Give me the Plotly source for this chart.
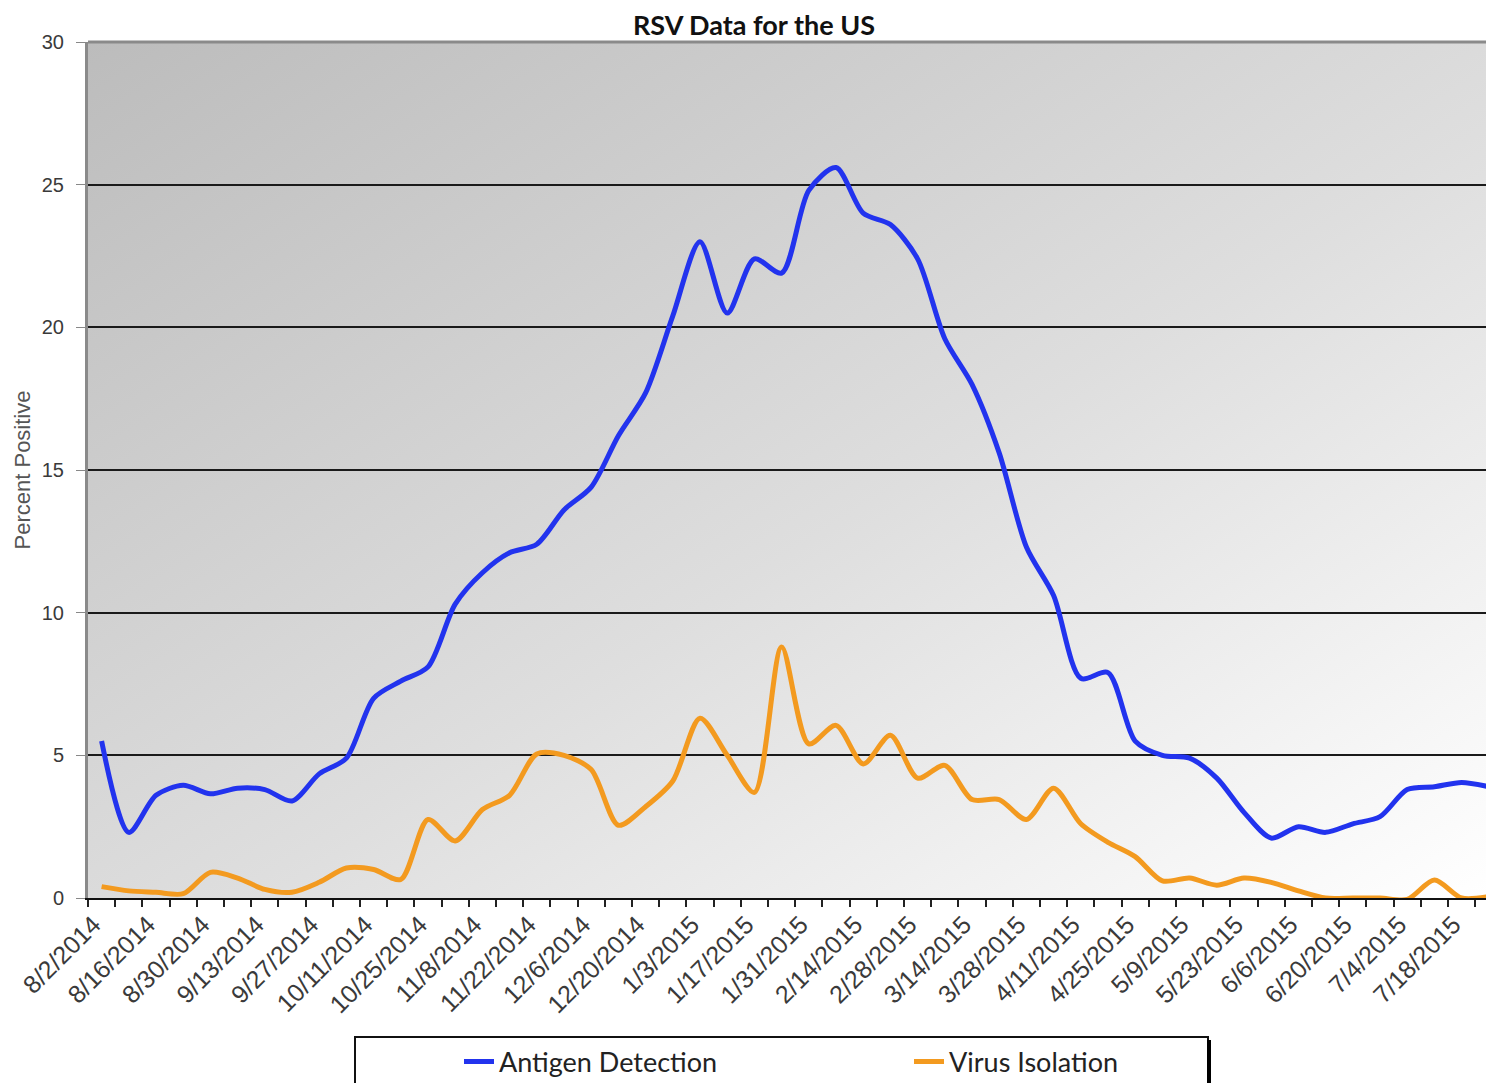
import base64
import plotly.graph_objects as go

# weekly reporting dates (one category per week)
weeks = [
    "8/2/2014", "8/9/2014", "8/16/2014", "8/23/2014", "8/30/2014", "9/6/2014",
    "9/13/2014", "9/20/2014", "9/27/2014", "10/4/2014", "10/11/2014", "10/18/2014",
    "10/25/2014", "11/1/2014", "11/8/2014", "11/15/2014", "11/22/2014", "11/29/2014",
    "12/6/2014", "12/13/2014", "12/20/2014", "12/27/2014", "1/3/2015", "1/10/2015",
    "1/17/2015", "1/24/2015", "1/31/2015", "2/7/2015", "2/14/2015", "2/21/2015",
    "2/28/2015", "3/7/2015", "3/14/2015", "3/21/2015", "3/28/2015", "4/4/2015",
    "4/11/2015", "4/18/2015", "4/25/2015", "5/2/2015", "5/9/2015", "5/16/2015",
    "5/23/2015", "5/30/2015", "6/6/2015", "6/13/2015", "6/20/2015", "6/27/2015",
    "7/4/2015", "7/11/2015", "7/18/2015", "7/25/2015",
]

antigen = [
    5.5, 2.3, 3.6, 3.95, 3.65, 3.85, 3.8, 3.4, 4.35, 4.9,
    7.0, 7.6, 8.1, 10.3, 11.4, 12.1, 12.4, 13.6, 14.4, 16.2,
    17.7, 20.4, 23.0, 20.5, 22.4, 21.9, 24.8, 25.6, 24.0, 23.6,
    22.4, 19.6, 18.0, 15.6, 12.3, 10.6, 7.7, 7.9, 5.5, 5.0,
    4.9, 4.2, 3.0, 2.1, 2.5, 2.3, 2.6, 2.85, 3.8, 3.9,
    4.05, 3.9,
]

virus = [
    0.4, 0.25, 0.2, 0.15, 0.9, 0.7, 0.3, 0.2, 0.55, 1.05,
    1.0, 0.65, 2.75, 2.0, 3.1, 3.6, 5.05, 5.0, 4.5, 2.55,
    3.2, 4.1, 6.3, 5.0, 3.7, 8.8, 5.4, 6.05, 4.7, 5.7,
    4.2, 4.65, 3.45, 3.45, 2.75, 3.85, 2.6, 1.95, 1.45, 0.6,
    0.7, 0.45, 0.7, 0.55, 0.25, 0.0, 0.0, 0.0, -0.05, 0.63,
    0.0, 0.05,
]

# only every other week gets a label
labels = [w if i % 2 == 0 else "" for i, w in enumerate(weeks)]

# the page body keeps an 8px margin on every side, so the figure is
# 16px smaller than the window and everything is placed in screen pixels
OFF = 8
W, H = 1494 - 2 * OFF, 1091 - 2 * OFF
PLOT_L, PLOT_T, PLOT_B = 88, 42, 898
L, R, T = PLOT_L - OFF, 0, PLOT_T - OFF
B = H - (PLOT_B - OFF)
PW, PH = W - L - R, H - T - B
STEP = 27.2  # px per week in the reference


def px_x(x):
    return (x - OFF - L) / PW


def px_y(y):
    return (H - B - (y - OFF)) / PH


# grey-to-white diagonal background for the plot area
svg = (
    '<svg xmlns="http://www.w3.org/2000/svg" width="100" height="100" '
    'viewBox="0 0 100 100" preserveAspectRatio="none">'
    '<defs><linearGradient id="g" x1="0" y1="0" x2="1" y2="1">'
    '<stop offset="0" stop-color="#bcbcbc"/>'
    '<stop offset="0.55" stop-color="#dedede"/>'
    '<stop offset="1" stop-color="#ffffff"/>'
    '</linearGradient></defs>'
    '<rect width="100" height="100" fill="url(#g)"/></svg>'
)
bg = "data:image/svg+xml;base64," + base64.b64encode(svg.encode()).decode()

fig = go.Figure()

fig.add_trace(go.Scatter(
    x=weeks, y=antigen, mode="lines", name="Antigen Detection",
    line=dict(color="#2233ee", width=5, shape="spline", smoothing=0.8),
))
fig.add_trace(go.Scatter(
    x=weeks, y=virus, mode="lines", name="Virus Isolation",
    line=dict(color="#f39a1f", width=5, shape="spline", smoothing=0.8),
))

fig.update_layout(
    width=W, height=H,
    margin=dict(l=L, r=R, t=T, b=B, autoexpand=False),
    paper_bgcolor="white",
    plot_bgcolor="rgba(0,0,0,0)",
    title=dict(
        text="<b>RSV Data for the US</b>",
        x=(754 - OFF) / W, xref="container", xanchor="center",
        y=1 - (26 - OFF) / H, yref="container", yanchor="middle",
        font=dict(family="Lato, sans-serif", size=27, color="#111"),
    ),
    images=[dict(
        source=bg, xref="paper", yref="paper", x=0, y=1,
        sizex=1, sizey=1, sizing="stretch", layer="below",
    )],
    showlegend=True,
    legend=dict(
        orientation="h",
        x=px_x(459), xanchor="left",
        y=px_y(1062), yanchor="middle",
        bgcolor="rgba(0,0,0,0)", borderwidth=0,
        entrywidth=405,
        font=dict(family="Lato, sans-serif", size=27, color="#222"),
    ),
    xaxis=dict(
        type="category",
        range=[-0.5, -0.5 + PW / STEP],
        automargin=False,
        tickmode="array", tickvals=weeks, ticktext=labels,
        tickson="boundaries",
        ticks="outside", ticklen=7, tickwidth=2, tickcolor="#222",
        tickangle=-45, ticklabelshift=-8,
        tickfont=dict(family="Liberation Sans, Arial, sans-serif", size=25, color="#3a3a3a"),
        showgrid=False,
        showline=True, linecolor="#111", linewidth=2,
    ),
    yaxis=dict(
        range=[0, 30], tickmode="linear", tick0=0, dtick=5,
        automargin=False,
        ticks="outside", ticklen=9, tickwidth=1, tickcolor="#888",
        ticklabelstandoff=8,
        tickfont=dict(family="Liberation Sans, Arial, sans-serif", size=20, color="#3a3a3a"),
        showgrid=True, gridcolor="#1a1a1a", gridwidth=1.5,
        zeroline=False,
        showline=True, linecolor="#8a8a8a", linewidth=3,
        title=dict(text="Percent Positive", standoff=6,
                   font=dict(family="Liberation Sans, Arial, sans-serif", size=22, color="#555")),
    ),
    shapes=[
        # top border of plot area
        dict(type="line", xref="paper", yref="paper", x0=0, x1=1, y0=1, y1=1,
             line=dict(color="#8a8a8a", width=3)),
        # legend box
        dict(type="rect", xref="paper", yref="paper",
             x0=px_x(355), x1=px_x(1208), y0=px_y(1037), y1=px_y(1110),
             line=dict(color="#111", width=2), fillcolor="white", layer="above"),
        dict(type="line", xref="paper", yref="paper",
             x0=px_x(1209), x1=px_x(1209), y0=px_y(1040), y1=px_y(1110),
             line=dict(color="#000", width=4)),
    ],
)

fig.write_html("out.html")
